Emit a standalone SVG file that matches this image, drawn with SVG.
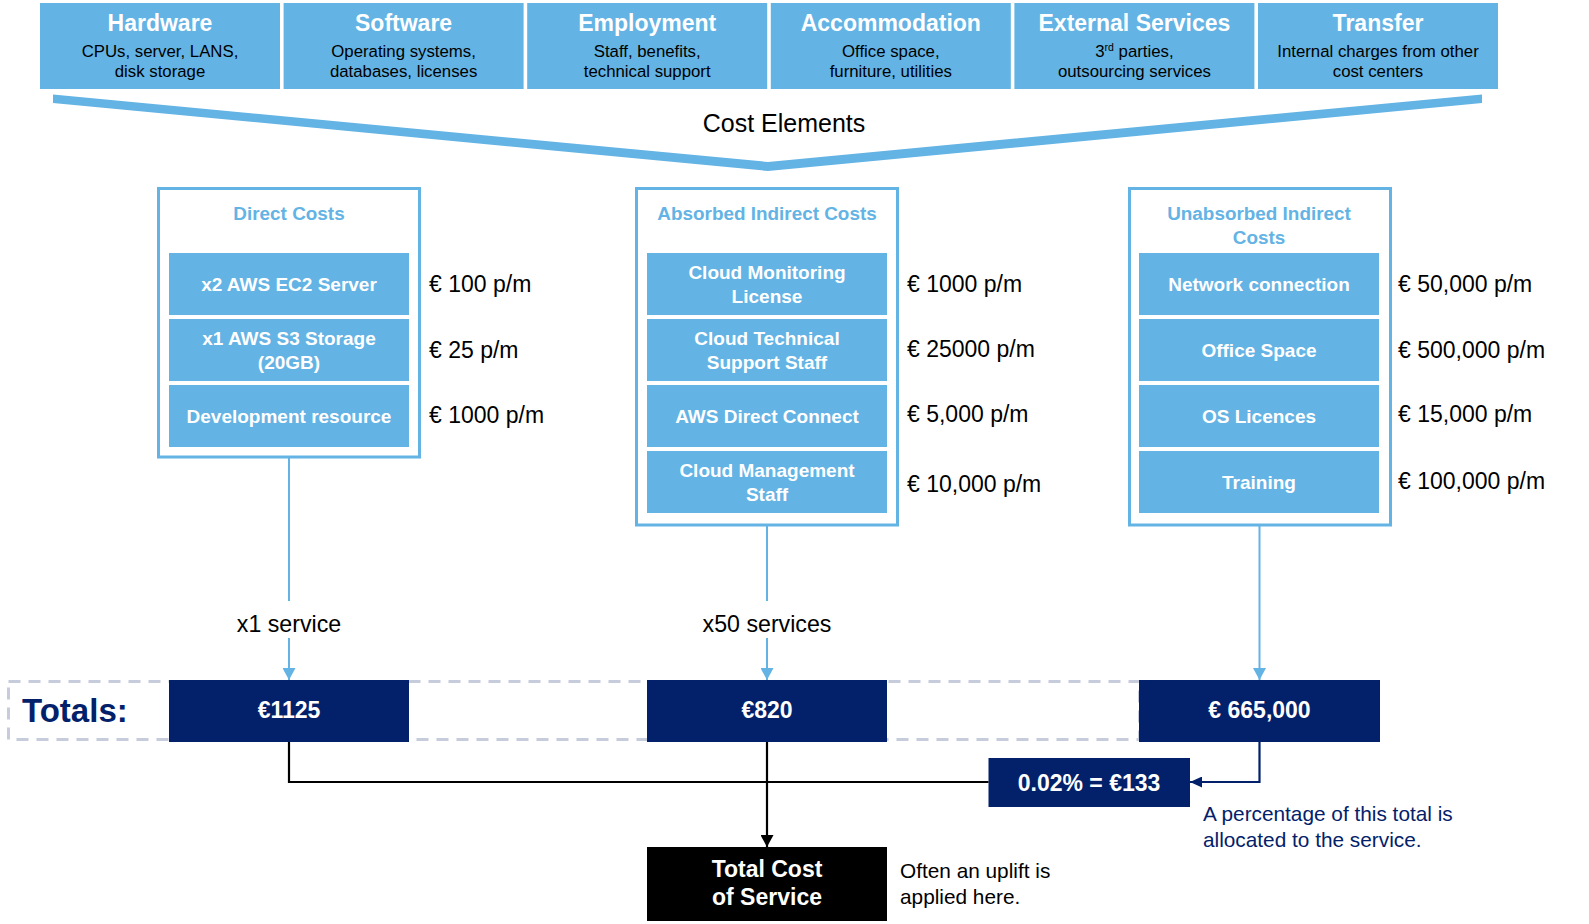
<svg xmlns="http://www.w3.org/2000/svg" width="1589" height="924" viewBox="0 0 1589 924">
<defs>
<style>
.cat{fill:#63B3E4}
.ct{font-family:"Liberation Sans",Arial,sans-serif;font-weight:bold;font-size:23px;fill:#fff;text-anchor:middle}
.cs{font-family:"Liberation Sans",Arial,sans-serif;font-size:16.8px;fill:#000;text-anchor:middle}
.panel{fill:#fff;stroke:#63B3E4;stroke-width:3}
.pt{font-family:"Liberation Sans",Arial,sans-serif;font-weight:bold;font-size:18.9px;fill:#63B3E4;text-anchor:middle}
.item{fill:#63B3E4}
.it{font-family:"Liberation Sans",Arial,sans-serif;font-weight:bold;font-size:19px;fill:#fff;text-anchor:middle}
.amt{font-family:"Liberation Sans",Arial,sans-serif;font-size:23px;fill:#000}
.lbl{font-family:"Liberation Sans",Arial,sans-serif;font-size:23.2px;fill:#000;text-anchor:middle}
.tot{fill:#03216A}
.tt{font-family:"Liberation Sans",Arial,sans-serif;font-weight:bold;font-size:23px;fill:#fff;text-anchor:middle}
.note{font-family:"Liberation Sans",Arial,sans-serif;font-size:20.8px}
.blue{fill:none;stroke:#63B3E4;stroke-width:2}
.blk{fill:none;stroke:#000;stroke-width:2.2}
.nav{fill:none;stroke:#03216A;stroke-width:2.2}
</style>
<marker id="aBlue" markerUnits="userSpaceOnUse" markerWidth="12" markerHeight="13" refX="12" refY="6.5" orient="auto"><path d="M0,0 L12,6.5 L0,13 z" fill="#63B3E4"/></marker>
<marker id="aBlk" markerUnits="userSpaceOnUse" markerWidth="12" markerHeight="13" refX="12" refY="6.5" orient="auto"><path d="M0,0 L12,6.5 L0,13 z" fill="#000"/></marker>
<marker id="aNav" markerUnits="userSpaceOnUse" markerWidth="12" markerHeight="11" refX="12" refY="5.5" orient="auto"><path d="M0,0 L12,5.5 L0,11 z" fill="#03216A"/></marker>
</defs>
<rect width="1589" height="924" fill="#fff"/>

<g id="cat-hardware"><rect class="cat" x="40" y="3" width="240" height="86"/><text class="ct" x="160" y="31">Hardware</text><text class="cs" x="160" y="57">CPUs, server, LANS,</text><text class="cs" x="160" y="77">disk storage</text></g>
<g id="cat-software"><rect class="cat" x="283.6" y="3" width="240" height="86"/><text class="ct" x="403.6" y="31">Software</text><text class="cs" x="403.6" y="57">Operating systems,</text><text class="cs" x="403.6" y="77">databases, licenses</text></g>
<g id="cat-employment"><rect class="cat" x="527.2" y="3" width="240" height="86"/><text class="ct" x="647.2" y="31">Employment</text><text class="cs" x="647.2" y="57">Staff, benefits,</text><text class="cs" x="647.2" y="77">technical support</text></g>
<g id="cat-accommodation"><rect class="cat" x="770.8" y="3" width="240" height="86"/><text class="ct" x="890.8" y="31">Accommodation</text><text class="cs" x="890.8" y="57">Office space,</text><text class="cs" x="890.8" y="77">furniture, utilities</text></g>
<g id="cat-external"><rect class="cat" x="1014.4" y="3" width="240" height="86"/><text class="ct" x="1134.4" y="31">External Services</text><text class="cs" x="1134.4" y="57">3<tspan font-size="10.5" baseline-shift="super">rd</tspan> parties,</text><text class="cs" x="1134.4" y="77">outsourcing services</text></g>
<g id="cat-transfer"><rect class="cat" x="1258" y="3" width="240" height="86"/><text class="ct" x="1378" y="31">Transfer</text><text class="cs" x="1378" y="57">Internal charges from other</text><text class="cs" x="1378" y="77">cost centers</text></g>

<g id="funnel"><polygon points="53,94.5 768,162 1482,94.5 1482,103 768,171 53,103" fill="#63B3E4"/><text x="784" y="132" font-family="Liberation Sans, Arial, sans-serif" font-size="25" text-anchor="middle" fill="#000">Cost Elements</text></g>

<g id="direct-costs">
<rect class="panel" x="158.5" y="188.5" width="261" height="268.5"/>
<text class="pt" x="289" y="220">Direct Costs</text>
<rect class="item" x="169" y="253" width="240" height="62"/><text class="it" x="289" y="290.5">x2 AWS EC2 Server</text>
<rect class="item" x="169" y="319" width="240" height="62"/><text class="it" x="289" y="345">x1 AWS S3 Storage</text><text class="it" x="289" y="368.5">(20GB)</text>
<rect class="item" x="169" y="385" width="240" height="62"/><text class="it" x="289" y="422.5">Development resource</text>
<text class="amt" x="429" y="292">€ 100 p/m</text>
<text class="amt" x="429" y="358">€ 25 p/m</text>
<text class="amt" x="429" y="423">€ 1000 p/m</text>
</g>

<g id="absorbed-costs">
<rect class="panel" x="636.5" y="188.5" width="261" height="336.5"/>
<text class="pt" x="767" y="220">Absorbed Indirect Costs</text>
<rect class="item" x="647" y="253" width="240" height="62"/><text class="it" x="767" y="279">Cloud Monitoring</text><text class="it" x="767" y="302.5">License</text>
<rect class="item" x="647" y="319" width="240" height="62"/><text class="it" x="767" y="345">Cloud Technical</text><text class="it" x="767" y="368.5">Support Staff</text>
<rect class="item" x="647" y="385" width="240" height="62"/><text class="it" x="767" y="422.5">AWS Direct Connect</text>
<rect class="item" x="647" y="451" width="240" height="62"/><text class="it" x="767" y="477">Cloud Management</text><text class="it" x="767" y="500.5">Staff</text>
<text class="amt" x="907" y="292">€ 1000 p/m</text>
<text class="amt" x="907" y="357">€ 25000 p/m</text>
<text class="amt" x="907" y="422">€ 5,000 p/m</text>
<text class="amt" x="907" y="492">€ 10,000 p/m</text>
</g>

<g id="unabsorbed-costs">
<rect class="panel" x="1129.5" y="188.5" width="261" height="336.5"/>
<text class="pt" x="1259" y="220">Unabsorbed Indirect</text><text class="pt" x="1259" y="244">Costs</text>
<rect class="item" x="1139" y="253" width="240" height="62"/><text class="it" x="1259" y="290.5">Network connection</text>
<rect class="item" x="1139" y="319" width="240" height="62"/><text class="it" x="1259" y="356.5">Office Space</text>
<rect class="item" x="1139" y="385" width="240" height="62"/><text class="it" x="1259" y="422.5">OS Licences</text>
<rect class="item" x="1139" y="451" width="240" height="62"/><text class="it" x="1259" y="488.5">Training</text>
<text class="amt" x="1398" y="292">€ 50,000 p/m</text>
<text class="amt" x="1398" y="358">€ 500,000 p/m</text>
<text class="amt" x="1398" y="422">€ 15,000 p/m</text>
<text class="amt" x="1398" y="489">€ 100,000 p/m</text>
</g>

<g id="totals-band">
<rect x="8.5" y="681.5" width="1131" height="58" fill="none" stroke="#C7CCDD" stroke-width="3" stroke-dasharray="12 8"/>
<text x="22" y="722" font-family="Liberation Sans, Arial, sans-serif" font-weight="bold" font-size="33" fill="#03216A">Totals:</text>
</g>
<g id="total-direct"><rect class="tot" x="169" y="680" width="240" height="62"/><text class="tt" x="289" y="718">€1125</text></g>
<g id="total-absorbed"><rect class="tot" x="647" y="680" width="240" height="62"/><text class="tt" x="767" y="718">€820</text></g>
<g id="total-unabsorbed"><rect class="tot" x="1139" y="680" width="241" height="62"/><text class="tt" x="1259.5" y="718">€ 665,000</text></g>
<g id="allocation"><rect class="tot" x="988.5" y="758" width="201.5" height="49"/><text class="tt" x="1089" y="791">0.02% = €133</text>
<text class="note" x="1203" y="821" fill="#03216A">A percentage of this total is</text><text class="note" x="1203" y="847" fill="#03216A">allocated to the service.</text></g>
<g id="total-cost"><rect x="647" y="847" width="240" height="74" fill="#000"/><text class="tt" x="767" y="877">Total Cost</text><text class="tt" x="767" y="905">of Service</text>
<text class="note" x="900" y="878" fill="#000">Often an uplift is</text><text class="note" x="900" y="904" fill="#000">applied here.</text></g>

<g id="connectors">
<line class="blue" x1="289" y1="458" x2="289" y2="601"/>
<line class="blue" x1="289" y1="638" x2="289" y2="680" marker-end="url(#aBlue)"/>
<text class="lbl" x="289" y="632">x1 service</text>
<line class="blue" x1="767" y1="526" x2="767" y2="601"/>
<line class="blue" x1="767" y1="638" x2="767" y2="680" marker-end="url(#aBlue)"/>
<text class="lbl" x="767" y="632">x50 services</text>
<line class="blue" x1="1259.5" y1="526" x2="1259.5" y2="680" marker-end="url(#aBlue)"/>
<polyline class="blk" points="289,742 289,782 988.5,782"/>
<line class="blk" x1="767" y1="742" x2="767" y2="847" marker-end="url(#aBlk)"/>
<polyline class="nav" points="1259.5,742 1259.5,782 1190,782" marker-end="url(#aNav)"/>
</g>
</svg>
